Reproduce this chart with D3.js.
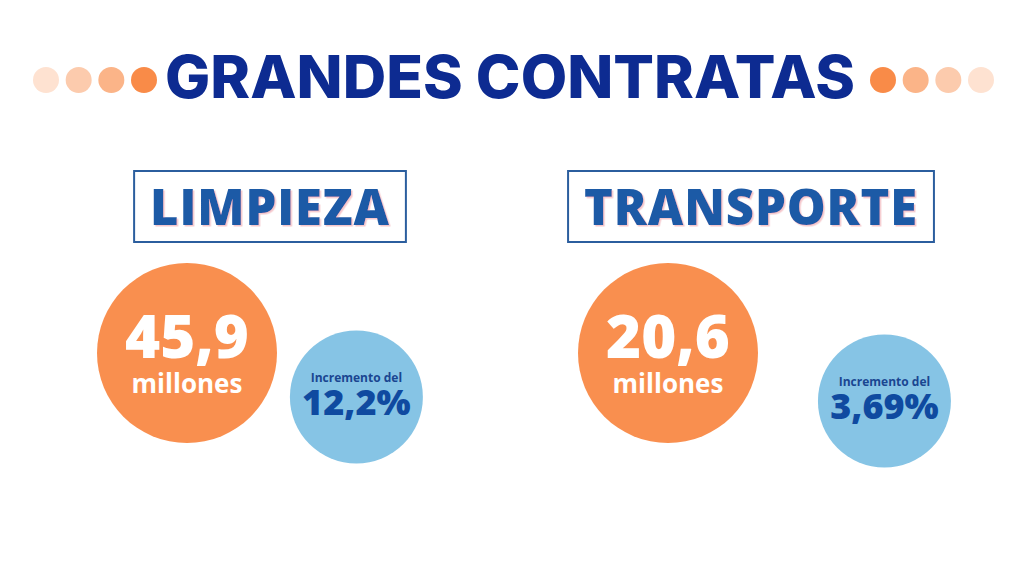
<!DOCTYPE html>
<html><head><meta charset="utf-8">
<script src="https://cdn.jsdelivr.net/npm/d3@7"></script>
<style>
html,body{margin:0;padding:0;background:#fff;}
svg{display:block;}
</style></head>
<body>
<svg id="chart" width="1024" height="576"></svg>
<script>
// ---- data ----
const title = "GRANDES CONTRATAS";
const categories = ["LIMPIEZA", "TRANSPORTE"];
const amounts = [45.9, 20.6];          // millones
const amountUnit = "millones";
const increments = [12.2, 3.69];       // %
const incrementLabel = "Incremento del";
const dotShades = [0.25, 0.45, 0.65, 1.0];

// ---- setup ----
const W = 1024, H = 576;
const svg = d3.select("#chart");
const loc = d3.formatLocale({decimal: ",", thousands: ".", grouping: [3], currency: ["", "€"]});
const fmtAmount = v => loc.format(".1f")(v);
const fmtPct = v => loc.format("~f")(v) + "%";

const orange = "#f98f4f";
const lightBlue = "#86c4e5";
const navy = "#0d2b91";
const boxBlue = "#1f5aa6";
const font = "'Open Sans', 'Noto Sans', sans-serif";

// ---- title ----
const titleT = svg.append("text")
  .attr("x", W / 2 - 2).attr("y", 98)
  .attr("text-anchor", "middle")
  .attr("font-family", "Inter, 'Open Sans', sans-serif")
  .attr("font-weight", 800)
  .attr("font-size", 59)
  .attr("fill", navy)
  .text(title);
titleT.attr("textLength", 690).attr("lengthAdjust", "spacingAndGlyphs");

// decorative dots, positions from index scales
const dotColor = d3.scaleLinear().domain([0, 1]).range(["#ffffff", "#f98b48"]);
const dotX = d3.scaleLinear().domain([0, 3]).range([46, 144]);
svg.append("g").selectAll("circle").data(dotShades).join("circle")
  .attr("cx", (d, i) => dotX(i)).attr("cy", 80).attr("r", 13)
  .attr("fill", d => dotColor(d));
const dotXR = d3.scaleLinear().domain([0, 3]).range([981, 883]);
svg.append("g").selectAll("circle").data(dotShades).join("circle")
  .attr("cx", (d, i) => dotXR(i)).attr("cy", 80).attr("r", 13)
  .attr("fill", d => dotColor(d));

// ---- panels ----
const x = d3.scalePoint().domain(categories).range([270, 751]);
const rBig = 90, rSmall = 66.5;

const defs = svg.append("defs");
const flt = defs.append("filter").attr("id", "sh").attr("x", "-10%").attr("y", "-10%").attr("width", "120%").attr("height", "130%");
flt.append("feDropShadow").attr("dx", 1.5).attr("dy", 1.5).attr("stdDeviation", 0.6).attr("flood-color", "#f3b9bf").attr("flood-opacity", 0.8);

const panels = svg.append("g").selectAll("g.panel")
  .data(categories.map((c, i) => ({cat: c, amount: amounts[i], inc: increments[i]})))
  .join("g").attr("class", "panel");

panels.each(function(d, i) {
  const g = d3.select(this);
  const cx = x(d.cat);
  const boxG = g.append("g");
  const rect = boxG.append("rect");
  const t = boxG.append("text")
    .attr("x", cx).attr("y", 225)
    .attr("text-anchor", "middle")
    .attr("font-family", font)
    .attr("font-weight", 800)
    .attr("font-size", 49)
    .attr("letter-spacing", 0.8)
    .attr("fill", boxBlue)
    .attr("filter", "url(#sh)")
    .text(d.cat);
  const tw = t.node().getComputedTextLength();
  const bw = tw + 32;
  rect.attr("x", cx - bw / 2).attr("y", 171).attr("width", bw).attr("height", 71)
    .attr("fill", "none").attr("stroke", "#2b5e9e").attr("stroke-width", 2);
  const boxRight = cx + bw / 2;

  // big orange circle
  const ox = cx - 83, oy = 353;
  g.append("circle").attr("cx", ox).attr("cy", oy).attr("r", rBig).attr("fill", orange);
  g.append("text").attr("x", ox).attr("y", 358)
    .attr("text-anchor", "middle").attr("font-family", font).attr("font-weight", 800)
    .attr("font-size", 60).attr("fill", "#fff").text(fmtAmount(d.amount));
  g.append("text").attr("x", ox).attr("y", 393)
    .attr("text-anchor", "middle").attr("font-family", font).attr("font-weight", 700)
    .attr("font-size", 26).attr("fill", "#fff").text(amountUnit);

  // small blue circle
  const bx = boxRight + 17 - rSmall, by = 397 + i * 4;
  g.append("circle").attr("cx", bx).attr("cy", by).attr("r", rSmall).attr("fill", lightBlue);
  g.append("text").attr("x", bx).attr("y", by - 15)
    .attr("text-anchor", "middle").attr("font-family", font).attr("font-weight", 700)
    .attr("font-size", 12).attr("fill", "#1a4691").text(incrementLabel);
  g.append("text").attr("x", bx).attr("y", by + 18)
    .attr("text-anchor", "middle").attr("font-family", font).attr("font-weight", 800)
    .attr("font-size", 36).attr("fill", "#0f4aa0").text(fmtPct(d.inc));
});
</script>
</body></html>
